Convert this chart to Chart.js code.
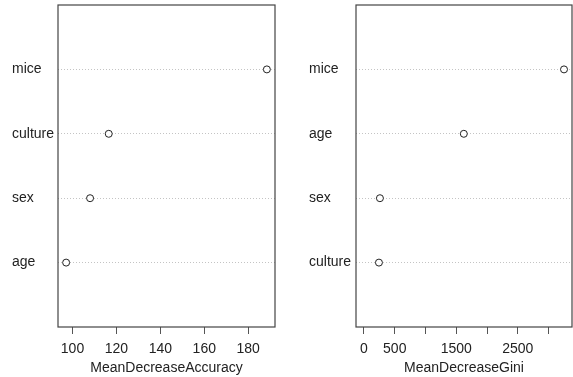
<!DOCTYPE html>
<html>
<head>
<meta charset="utf-8">
<script src="https://cdn.jsdelivr.net/npm/chart.js@4"></script>
<style>
  body { margin: 0; background: #fff; }
  #wrap { position: relative; width: 573px; height: 377px; }
  canvas { position: absolute; top: 0; }
</style>
</head>
<body>
<div id="wrap">
  <canvas id="accChart" width="290" height="377" style="left:0"></canvas>
  <canvas id="giniChart" width="283" height="377" style="left:290px"></canvas>
</div>
<script>
// variables listed bottom to top, as in the dot chart
const accNames = ['age', 'sex', 'culture', 'mice'];
const accValues = [97.1, 108.0, 116.5, 188.5];
const accTicks = [100, 120, 140, 160, 180];
const accTickLabels = ['100', '120', '140', '160', '180'];

const giniNames = ['culture', 'sex', 'age', 'mice'];
const giniValues = [243, 259, 1623, 3252];
const giniTicks = [0, 500, 1000, 1500, 2000, 2500, 3000];
const giniTickLabels = ['0', '500', '', '1500', '', '2500', ''];

const font = { family: 'Liberation Sans, Arial, sans-serif', size: 14 };

// draw the frame round the plot region
const boxPlugin = {
    id: 'box',
    afterDraw: chart => {
        const a = chart.chartArea;
        const ctx = chart.ctx;
        ctx.save();
        ctx.strokeStyle = '#444';
        ctx.lineWidth = 1.2;
        ctx.strokeRect(a.left, a.top, a.right - a.left, a.bottom - a.top);
        ctx.restore();
    }
};

const makeDotChart = (id, names, values, ticks, tickLabels, xmin, xmax, title, pad, yWidth) => {
    const ctx = document.getElementById(id).getContext('2d');
    return new Chart(ctx, {
        type: 'scatter',
        data: {
            datasets: [{
                data: values.map((v, i) => ({ x: v, y: i + 1 })),
                pointRadius: 3.5,
                pointBorderWidth: 1,
                borderColor: '#222',
                backgroundColor: '#fff'
            }]
        },
        options: {
            responsive: false,
            animation: false,
            layout: { padding: pad, autoPadding: false },
            plugins: { legend: { display: false }, tooltip: { enabled: false } },
            scales: {
                x: {
                    type: 'linear',
                    min: xmin,
                    max: xmax,
                    afterBuildTicks: s => { s.ticks = ticks.map(v => ({ value: v })); },
                    afterFit: s => { s.height = 50; s.paddingLeft = 0; s.paddingRight = 0; },
                    ticks: {
                        color: '#222',
                        font: font,
                        padding: 7,
                        maxRotation: 0,
                        autoSkip: false,
                        callback: (v, i) => tickLabels[i]
                    },
                    grid: { drawOnChartArea: false, drawTicks: true, tickLength: 7, color: '#555' },
                    border: { display: false },
                    title: { display: true, text: title, color: '#222', font: font, padding: { top: 0, bottom: 0 } }
                },
                y: {
                    type: 'linear',
                    min: 0,
                    max: 5,
                    afterBuildTicks: s => { s.ticks = names.map((n, i) => ({ value: i + 1 })); },
                    afterFit: s => { s.width = yWidth; s.paddingTop = 0; s.paddingBottom = 0; },
                    ticks: {
                        color: '#222',
                        font: font,
                        crossAlign: 'far',
                        autoSkip: false,
                        callback: (v, i) => names[i]
                    },
                    grid: { color: '#c4c4c4', lineWidth: 1, drawTicks: false },
                    border: { display: false, dash: [1, 2] }
                }
            }
        },
        plugins: [boxPlugin]
    });
};

makeDotChart('accChart', accNames, accValues, accTicks, accTickLabels,
    93.4, 192.2, 'MeanDecreaseAccuracy',
    { left: 12, top: 5, right: 15, bottom: 0 }, 46);

makeDotChart('giniChart', giniNames, giniValues, giniTicks, giniTickLabels,
    -130, 3382, 'MeanDecreaseGini',
    { left: 19, top: 5, right: 1, bottom: 0 }, 47);
</script>
</body>
</html>
